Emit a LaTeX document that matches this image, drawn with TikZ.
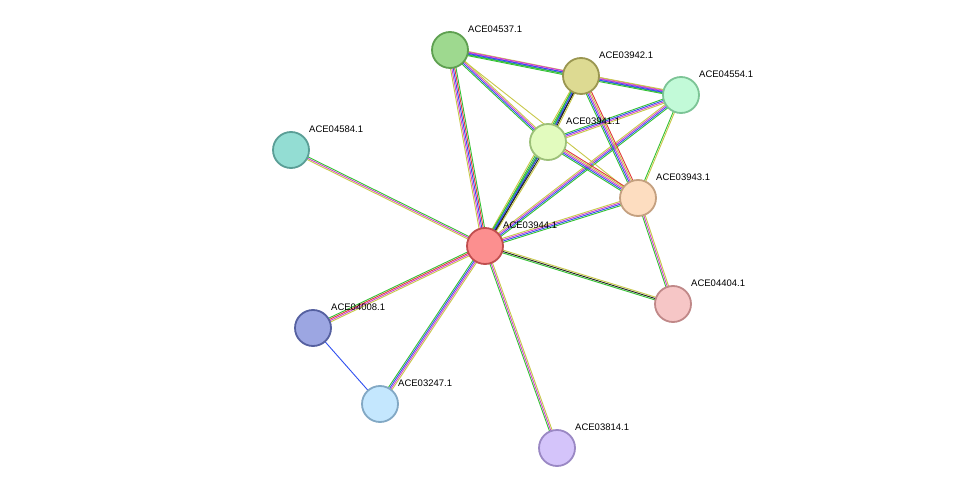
\documentclass[tikz,border=0pt]{standalone}
\usepackage{fontspec}
\setmainfont{Liberation Sans}
\usetikzlibrary{calc}
\definecolor{eg}{HTML}{33C233}
\definecolor{er}{HTML}{E03A3A}
\definecolor{eb}{HTML}{3050F0}
\definecolor{em}{HTML}{D040D0}
\definecolor{ey}{HTML}{C8C848}
\definecolor{ek}{HTML}{222222}
\tikzset{prot/.style={circle,minimum size=36pt,inner sep=0pt,line width=1.8pt},
 lab/.style={anchor=west,font=\fontsize{9.5}{10}\selectfont,inner sep=0pt}}
\newcommand\edg[4]{%
 \foreach \cc [count=\i] in {#4}{%
  \pgfmathsetmacro\off{(\i-(#3+1)/2)*1.4}%
  \draw[\cc,line width=0.9pt] ($(#1)!\off pt!90:(#2)$) -- ($(#2)!\off pt!-90:(#1)$);}}
\newcommand\prt[6]{\definecolor{f#1}{HTML}{#4}\definecolor{d#1}{HTML}{#5}%
 \node[prot,fill=f#1,draw=d#1] (#1) at (#2,#3) {};
 \node[lab] (l#1) at (#2+18,#3-21) {#6};}
\begin{document}
\begin{tikzpicture}[x=1pt,y=-1pt]
\useasboundingbox[fill=white] (0,0) rectangle (976,494);
\coordinate (c44) at (485,246);
\coordinate (c37) at (450,50);
\coordinate (c42) at (581,76);
\coordinate (c54) at (681,95);
\coordinate (c41) at (548,142);
\coordinate (c84) at (291,150);
\coordinate (c43) at (638,198);
\coordinate (c04) at (673,304);
\coordinate (c08) at (313,328);
\coordinate (c47) at (380,404);
\coordinate (c14) at (557,448);
\edg{c44}{c37}{5}{eg,er,eb,em,ey}
\edg{c44}{c42}{4}{ek,eb,eg,ey}
\edg{c44}{c54}{4}{eg,eb,em,ey}
\edg{c44}{c41}{4}{ey,ek,eb,eg}
\edg{c44}{c43}{4}{eg,eb,em,ey}
\edg{c44}{c04}{3}{eg,ek,ey}
\edg{c44}{c84}{3}{eg,em,ey}
\edg{c44}{c08}{4}{eg,er,em,ey}
\edg{c44}{c47}{4}{eg,eb,em,ey}
\edg{c44}{c14}{3}{eg,em,ey}
\edg{c37}{c42}{4}{eg,eb,em,ey}
\edg{c37}{c54}{3}{eg,eb,em}
\edg{c37}{c41}{4}{eg,eb,em,ey}
\edg{c37}{c43}{1}{ey}
\edg{c42}{c54}{4}{eg,eb,em,ey}
\edg{c42}{c41}{4}{eg,eb,ek,ey}
\edg{c42}{c43}{5}{eg,eb,em,ey,er}
\edg{c54}{c41}{4}{eg,eb,em,ey}
\edg{c54}{c43}{2}{eg,ey}
\edg{c41}{c43}{5}{eg,eb,em,ey,er}
\edg{c43}{c04}{3}{eg,em,ey}
\edg{c08}{c47}{1}{eb}
\prt{n37}{450}{50}{9ED98F}{5EA050}{ACE04537.1}
\prt{n42}{581}{76}{DDDA92}{9A9650}{ACE03942.1}
\prt{n54}{681}{95}{C2FAD8}{7CC496}{ACE04554.1}
\prt{n41}{548}{142}{E2FBBE}{9CC078}{ACE03941.1}
\prt{n84}{291}{150}{93DDD3}{5A9E96}{ACE04584.1}
\prt{n43}{638}{198}{FDDDC0}{C4A080}{ACE03943.1}
\prt{n44}{485}{246}{FC8F8F}{C04E4E}{ACE03944.1}
\prt{n04}{673}{304}{F6C6C6}{C08888}{ACE04404.1}
\prt{n08}{313}{328}{9CA6E2}{5560A0}{ACE04008.1}
\prt{n47}{380}{404}{C4E7FE}{82A8C4}{ACE03247.1}
\prt{n14}{557}{448}{D4C4FA}{9A88C4}{ACE03814.1}
\end{tikzpicture}
\end{document}
